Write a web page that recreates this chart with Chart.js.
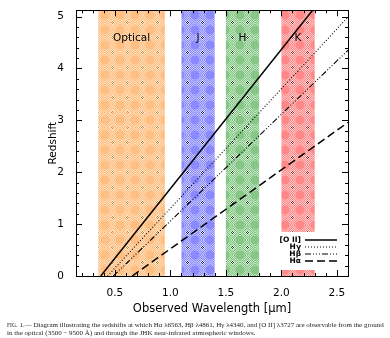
<!DOCTYPE html>
<html lang="en">
<head>
<meta charset="UTF-8">
<title>Redshift vs observed wavelength</title>
<script src="https://cdn.jsdelivr.net/npm/chart.js"></script>
<style>
    html, body { margin: 0; padding: 0; background: #fff; }
    #wrap { position: relative; width: 390px; height: 338px; }
    #caption { position: absolute; left: 7px; top: 322px; width: 385px; font-family: "Liberation Serif", "DejaVu Serif", serif; font-size: 7px; line-height: 7.5px; color: #222; white-space: nowrap; }
    .sc { font-size: 5.6px; }
</style>
</head>
<body>
<div id="wrap">
    <canvas id="zChart" width="390" height="338"></canvas>
    <div id="caption">
        <div><span class="sc">FIG</span>. 1.— Diagram illustrating the redshifts at which Hα λ6563, Hβ λ4861, Hγ λ4340, and [O II] λ3727 are observable from the ground</div>
        <div>in the optical (3500 − 9500 Å) and through the JHK near-infrared atmospheric windows.</div>
    </div>
</div>
<script>
// atmospheric windows (µm)
const bandNames = ['Optical', 'J', 'H', 'K'];
const bandStart = [0.35, 1.1, 1.5, 2.0];
const bandEnd = [0.95, 1.4, 1.8, 2.3];
const bandLabelZ = 4.58;

// emission lines: observed wavelength (µm) and redshift at the two ends
const lineNames = ['[O II]', 'Hγ', 'Hβ', 'Hα'];
const lineWave = [[0.373, 2.281], [0.434, 2.6], [0.486, 2.6], [0.656, 2.6]];
const lineZ = [[0, 5.12], [0, 4.99], [0, 4.35], [0, 2.96]];

const xTicks = [0.5, 1.0, 1.5, 2.0, 2.5];
const yTicks = [0, 1, 2, 3, 4, 5];

const bandColors = [
    { base: '#ffbe82', light: '#ffdcb8', dark: '#e07000' },
    { base: '#8a8aff', light: '#c4c4ff', dark: '#0000b4' },
    { base: '#86c686', light: '#c2e4c2', dark: '#006000' },
    { base: '#ff8888', light: '#ffc4c4', dark: '#c80000' }
];
const lineDash = [[], [1, 2], [6, 2, 1, 2, 1, 2, 1, 2], [8, 4]];
const lineWidth = [1.5, 1.1, 1.1, 1.5];

// dithered tile: checker background, solid discs at the corners, dark checker diamond in the middle
function makePattern(c) {
    const n = 15;
    const t = document.createElement('canvas');
    t.width = n; t.height = n;
    const g = t.getContext('2d');
    for (let y = 0; y < n; y++) {
        for (let x = 0; x < n; x++) {
            g.fillStyle = (x + y) % 2 ? c.base : c.light;
            g.fillRect(x, y, 1, 1);
        }
    }
    g.fillStyle = c.base;
    [[0, 0], [n, 0], [0, n], [n, n]].forEach(([cx, cy]) => {
        g.beginPath(); g.arc(cx, cy, 4.5, 0, Math.PI * 2); g.fill();
    });
    for (let y = 0; y < n; y++) {
        for (let x = 0; x < n; x++) {
            const d = Math.abs(x - 7) + Math.abs(y - 7);
            if (d <= 2) {
                g.fillStyle = (x + y) % 2 ? c.dark : '#ffffff';
                g.fillRect(x, y, 1, 1);
            }
        }
    }
    return g.createPattern(t, 'repeat');
}

const ctx = document.getElementById('zChart').getContext('2d');
const patterns = bandColors.map(makePattern);

const bandsPlugin = {
    id: 'bands',
    beforeDatasetsDraw(chart) {
        const { ctx, chartArea: a, scales: { x, y } } = chart;
        ctx.save();
        bandNames.forEach((name, i) => {
            const x0 = x.getPixelForValue(bandStart[i]);
            const x1 = x.getPixelForValue(bandEnd[i]);
            ctx.fillStyle = patterns[i];
            ctx.fillRect(x0, a.top, x1 - x0, a.bottom - a.top);
        });
        // legend panel
        ctx.fillStyle = '#ffffff';
        ctx.fillRect(276, 232, 70, 38);
        ctx.fillStyle = '#000';
        ctx.font = '10.5px "DejaVu Sans"';
        ctx.textAlign = 'center';
        ctx.textBaseline = 'middle';
        bandNames.forEach((name, i) => {
            const xc = x.getPixelForValue((bandStart[i] + bandEnd[i]) / 2);
            ctx.fillText(name, xc, y.getPixelForValue(bandLabelZ));
        });
        ctx.restore();
    },
    afterDatasetsDraw(chart) {
        const { ctx, chartArea: a, scales: { x, y } } = chart;
        ctx.save();
        ctx.strokeStyle = '#000';
        ctx.lineWidth = 1;
        ctx.strokeRect(Math.round(a.left) + 0.5, Math.round(a.top) + 0.5, Math.round(a.right - a.left), Math.round(a.bottom - a.top));
        // inward ticks on all four sides
        ctx.beginPath();
        for (let v = 0.2; v <= 2.6001; v += 0.1) {
            const major = Math.abs(v * 2 - Math.round(v * 2)) < 1e-6;
            const len = major ? 6 : 3;
            const px = Math.round(x.getPixelForValue(v)) + 0.5;
            ctx.moveTo(px, a.bottom); ctx.lineTo(px, a.bottom - len);
            ctx.moveTo(px, a.top); ctx.lineTo(px, a.top + len);
        }
        for (let v = 0; v <= 5.1; v += 0.2) {
            const major = Math.abs(v - Math.round(v)) < 1e-6;
            const len = major ? 6 : 3;
            const py = Math.round(y.getPixelForValue(v)) + 0.5;
            ctx.moveTo(a.left, py); ctx.lineTo(a.left + len, py);
            ctx.moveTo(a.right, py); ctx.lineTo(a.right - len, py);
        }
        ctx.stroke();
        // legend entries
        ctx.font = 'bold 7.5px "DejaVu Sans"';
        ctx.textAlign = 'right';
        ctx.textBaseline = 'middle';
        chart.data.datasets.forEach((ds, i) => {
            const ly = 240 + i * 7;
            ctx.fillStyle = '#000';
            ctx.fillText(ds.label, 301, ly);
            ctx.beginPath();
            ctx.setLineDash(ds.borderDash);
            ctx.lineWidth = ds.borderWidth;
            ctx.strokeStyle = ds.borderColor;
            ctx.moveTo(305, ly); ctx.lineTo(337, ly);
            ctx.stroke();
        });
        ctx.restore();
    }
};

const chart = new Chart(ctx, {
    type: 'line',
    data: {
        datasets: lineNames.map((name, i) => ({
            label: name,
            data: lineWave[i].map((w, k) => ({ x: w, y: lineZ[i][k] })),
            borderColor: '#000',
            borderWidth: lineWidth[i],
            borderDash: lineDash[i],
            pointRadius: 0,
            fill: false
        }))
    },
    options: {
        responsive: false,
        animation: false,
        layout: { padding: { left: 0, right: 42, top: 4, bottom: 22 } },
        plugins: { legend: { display: false }, tooltip: { enabled: false } },
        scales: {
            x: {
                type: 'linear',
                min: 0.15,
                max: 2.6,
                afterBuildTicks: s => { s.ticks = xTicks.map(v => ({ value: v })); },
                afterFit: s => { s.height = 40; },
                grid: { display: false },
                border: { display: false },
                ticks: { color: '#000', padding: 3, font: { family: 'DejaVu Sans', size: 10.5 }, callback: v => v.toFixed(1), maxRotation: 0 },
                title: { display: true, text: 'Observed Wavelength [µm]', color: '#000', font: { family: 'DejaVu Sans', size: 11.5 }, padding: { top: 0, bottom: 0 } }
            },
            y: {
                type: 'linear',
                min: 0,
                max: 5.12,
                afterBuildTicks: s => { s.ticks = yTicks.map(v => ({ value: v })); },
                afterFit: s => { s.width = 76; },
                grid: { display: false },
                border: { display: false },
                ticks: { color: '#000', padding: 4, font: { family: 'DejaVu Sans', size: 10.5 } },
                title: { display: true, text: 'Redshift', color: '#000', font: { family: 'DejaVu Sans', size: 10.5 }, padding: { top: 47, bottom: 0 } }
            }
        }
    },
    plugins: [bandsPlugin]
});
</script>
</body>
</html>
